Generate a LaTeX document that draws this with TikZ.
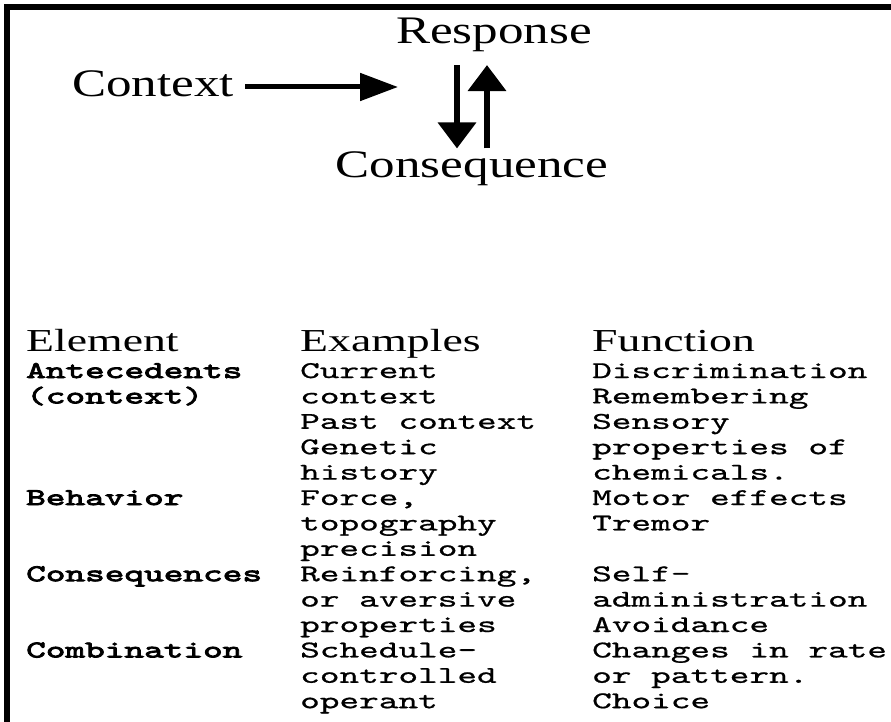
\documentclass[tikz,border=0pt]{standalone}
\usepackage{fontspec}
\setmainfont{Liberation Serif}
\newfontfamily\bigrm[FakeStretch=1.31]{Liberation Serif}
\newfontfamily\headrm[FakeStretch=1.43]{Liberation Serif}
\newfontfamily\celltt[FakeStretch=1.56,FakeBold=0.8,BoldFont=lmmono10-regular.otf,BoldFeatures={FakeBold=3.5}]{lmmono10-regular.otf}
\usetikzlibrary{arrows.meta}

\begin{document}
\begin{tikzpicture}[x=1pt,y=-1pt,
  big/.style={inner sep=0pt,font=\fontsize{39}{39}\bigrm},
  head/.style={inner sep=0pt,anchor=base west,font=\fontsize{32}{32}\headrm},
  cell/.style={inner sep=0pt,anchor=base west,font=\fontsize{24}{24}\celltt},
  rowhead/.style={cell,font=\fontsize{24}{24}\celltt\bfseries},
  hflow/.style={-{Triangle[length=38pt,width=27pt]},line width=5pt},
  vflow/.style={-{Triangle[length=26pt,width=37pt]},line width=6.5pt}]
  \useasboundingbox (0,0) rectangle (891,722);
  \draw[line width=6pt] (7,722) -- (7,7) -- (891,7);

  \node[big,anchor=base] (resp) at (494,44) {Response};
  \node[big,anchor=base west] (ctx) at (72,97) {Context};
  \node[big,anchor=base] (cons) at (472,178) {Consequence};
  \coordinate (aim) at (398,87);
  \coordinate (pair) at (cons.north |- resp.south);
  \draw[hflow,shorten <=11pt] (ctx.east |- aim) -- (aim);
  \draw[vflow,shorten <=12.5pt,shorten >=3.5pt] ([xshift=-15pt]pair) -- ([xshift=-15pt]cons.north);
  \draw[vflow,shorten <=3.5pt,shorten >=12.5pt] ([xshift=15pt]cons.north) -- ([xshift=15pt]pair);

  \node[head] (el) at (26,351) {Element};
  \node[head] (ex) at (300,351) {Examples};
  \node[head] (fn) at (592,351) {Function};
  \foreach \r/\txt in {1/Antecedents,2/{(context)},6/Behavior,9/Consequences,12/Combination}
    \node[rowhead] (el-\r) at (26,352.6+25.4*\r) {\txt};
  \foreach \r/\txt in {1/Current,2/context,3/Past context,4/Genetic,5/history,6/{Force,},7/topography,8/precision,9/{Reinforcing,},10/or aversive,11/properties,12/Schedule-,13/controlled,14/operant}
    \node[cell] (ex-\r) at (300,352.6+25.4*\r) {\txt};
  \foreach \r/\txt in {1/Discrimination,2/Remembering,3/Sensory,4/properties of,5/chemicals.,6/Motor effects,7/Tremor,9/Self-,10/administration,11/Avoidance,12/Changes in rate,13/or pattern.,14/Choice}
    \node[cell] (fn-\r) at (592,352.6+25.4*\r) {\txt};
\end{tikzpicture}
\end{document}
